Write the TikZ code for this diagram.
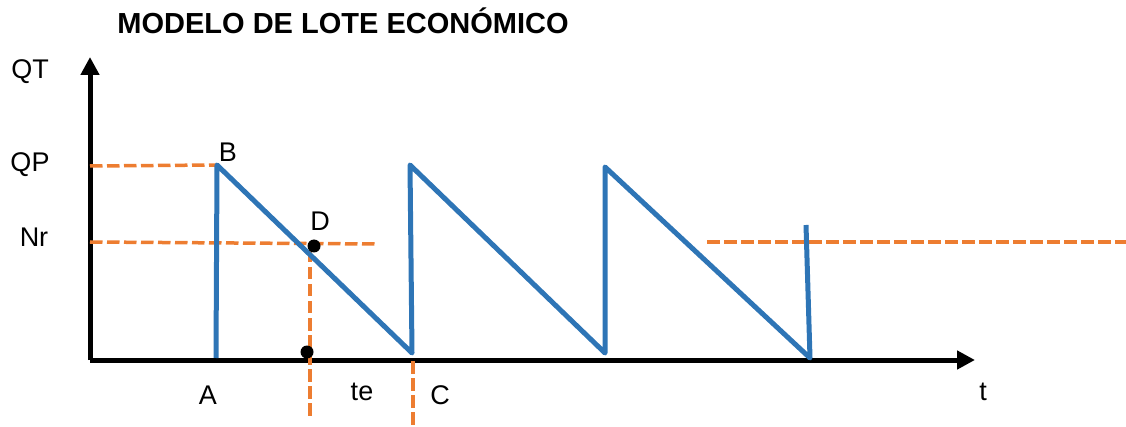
\documentclass[tikz,border=0pt]{standalone}
\usepackage{fontspec}
\setmainfont{Liberation Sans}
\usepackage{xcolor}
\usetikzlibrary{arrows.meta}
\usetikzlibrary{positioning}

\definecolor{stockblue}{HTML}{2E75B6}
\definecolor{guideorange}{HTML}{ED7D31}

\begin{document}
\begin{tikzpicture}[x=1pt, y=-1pt,
  every node/.style={font=\fontsize{27}{30}\selectfont, inner sep=0pt},
  axis/.style={line width=5pt, -{Triangle[length=18pt, width=18pt]}},
  stock/.style={line width=5pt, draw=stockblue, line join=round},
  guide/.style={line width=3.5pt, draw=guideorange, dash pattern=on 12.5pt off 4.5pt},
  dot/.style={circle, fill=black, minimum size=13pt},
]
\useasboundingbox (0,0) rectangle (1126,427);

%% title
\node[anchor=base] (title) at (343,34) {\fontsize{29}{32}\selectfont\bfseries MODELO DE LOTE ECONÓMICO};

%% axes
\coordinate (O)  at (90,360);
\coordinate (Yt) at (90,57);
\coordinate (Xt) at (975,360);
\draw[axis] (O) -- (Yt);
\draw[axis] (O) -- (Xt);

%% inventory cycles
\coordinate (A)  at (216,358);
\coordinate (B)  at (217,165);
\coordinate (C1) at (412,353);
\coordinate (P2) at (410,165);
\coordinate (C2) at (605,353);
\coordinate (P3) at (605,167);
\coordinate (C3) at (810,358);
\coordinate (P4) at (806,225);

%% reference lines
\coordinate (qp0) at (90,166);
\coordinate (nr0) at (90,242);
\coordinate (nr1) at (378,244);
\coordinate (dv0) at (310,250);
\coordinate (dv1) at (310,418);
\coordinate (cv0) at (413,361);
\coordinate (cv1) at (413,427);
\coordinate (rr0) at (707,242);
\coordinate (rr1) at (1126,242);

\draw[guide] (qp0) -- (B);
\draw[guide] (nr0) -- (nr1);
\draw[guide] (dv0) -- (dv1);
\draw[guide] (cv0) -- (cv1);
\draw[guide] (rr0) -- (rr1);

\draw[stock] (A) -- (B) -- (C1) -- (P2) -- (C2) -- (P3) -- (C3) -- (P4);

%% points
\node[dot] (dD) at (314,246) {};
\node[dot] (dE) at (307,352) {};

%% labels
\node (QT) at (30,72)   {QT};
\node (QP) at (30,165)  {QP};
\node (Nr) at (34,237)  {Nr};
\node (lB) at (228,152) {B};
\node (lD) at (320,221) {D};
\node (lA) at (208,395) {A};
\node (te) at (362,392) {te};
\node (lC) at (440,395) {C};
\node (lt) at (983,392) {t};

\end{tikzpicture}
\end{document}
